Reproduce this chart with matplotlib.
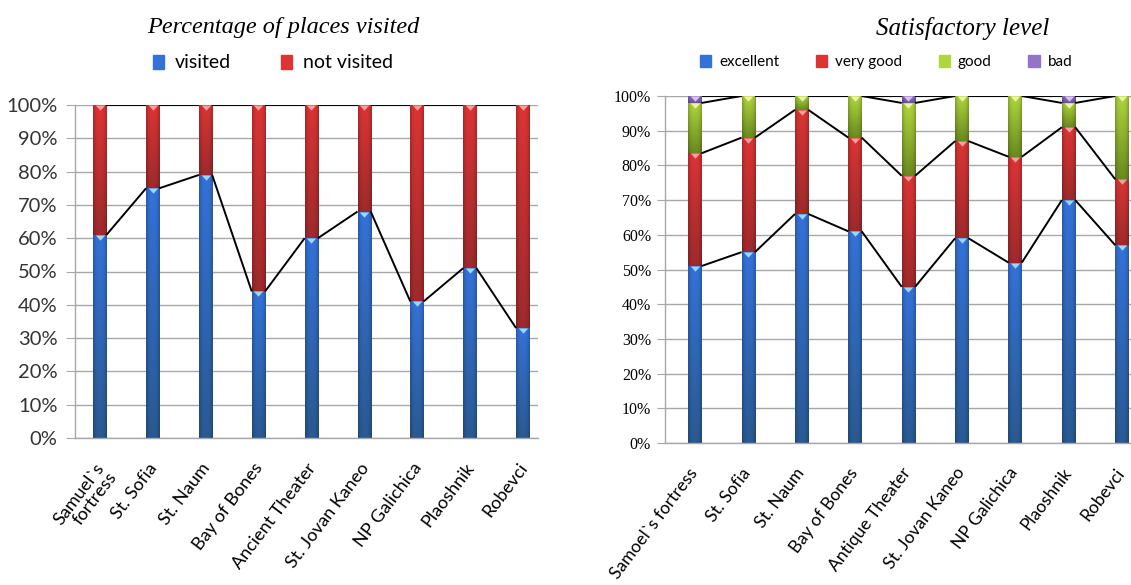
import numpy as np
import matplotlib
matplotlib.use("Agg")
import matplotlib.pyplot as plt
from matplotlib.colors import to_rgb
from matplotlib.patches import Patch
from matplotlib.path import Path
from matplotlib.transforms import ScaledTranslation

# ---- data -------------------------------------------------------------
places_visit = ["Samuel`s\nfortress", "St. Sofia", "St. Naum", "Bay of Bones",
                "Ancient Theater", "St. Jovan Kaneo", "NP Galichica",
                "Plaoshnik", "Robevci"]
visited = [61, 75, 79, 44, 60, 68, 41, 51, 33]
not_visited = [39, 25, 21, 56, 40, 32, 59, 49, 67]

places_rating = ["Samoel`s fortress", "St. Sofia", "St. Naum", "Bay of Bones",
                 "Antique Theater", "St. Jovan Kaneo", "NP Galichica",
                 "Plaoshnik", "Robevci"]
excellent = [51, 55, 66, 61, 45, 59, 52, 70, 57]
very_good = [32.5, 33, 30, 27, 32, 28, 30.5, 21, 19]
good = [14.5, 12, 4, 12, 21, 13, 17.5, 7, 24]
bad = [2, 0, 0, 0, 2, 0, 0, 2, 0]

pct_ticks = list(range(0, 101, 10))
pct_labels = [f"{t}%" for t in pct_ticks]

# ---- styling ----------------------------------------------------------
# (bottom colour, top colour, highlight triangle colour)
STYLE = {
    "blue":   ("#2a5a92", "#3472d8", "#9ad8ff"),
    "red":    ("#9e2a2c", "#dc3434", "#f6a0a0"),
    "green":  ("#6a8a1e", "#b0d63e", "#eef5a0"),
    "purple": ("#6e4ea6", "#9274c8", "#d6c4f0"),
}
GRID = "#a8a8a8"
SANS = ["Lato", "DejaVu Sans"]
SERIF = ["Liberation Serif", "DejaVu Serif"]
W, H = 1131, 585

# triangle hanging below its anchor point
TRI = Path([(-1, 0), (1, 0), (0, -1.1), (-1, 0)],
           [Path.MOVETO, Path.LINETO, Path.LINETO, Path.CLOSEPOLY])


def shade_bars(ax, bars, style):
    lo, hi, _ = STYLE[style]
    lo, hi = np.array(to_rgb(lo)), np.array(to_rgb(hi))
    ny, nx = 80, 20
    t = np.linspace(0, 1, ny)[:, None, None]
    col = lo * (1 - t) + hi * t
    hx = 1 - 0.22 * np.abs(np.linspace(-1, 1, nx)) ** 3
    img = np.clip(col * hx[None, :, None], 0, 1)
    for b in bars:
        h = b.get_height()
        if h <= 0:
            continue
        x0, y0, w = b.get_x(), b.get_y(), b.get_width()
        im = ax.imshow(img, extent=[x0, x0 + w, y0, y0 + h], origin="lower",
                       aspect="auto", interpolation="bilinear", zorder=2.5)
        im.set_clip_path(b)


def stacked(ax, labels, series, styles, width, xlim):
    x = np.arange(len(labels))
    bottom = np.zeros(len(labels))
    tops = []
    for vals, st in zip(series, styles):
        vals = np.asarray(vals, dtype=float)
        bars = ax.bar(x, vals, width, bottom=bottom, color=STYLE[st][1],
                      zorder=2, linewidth=0)
        shade_bars(ax, bars, st)
        top = bottom + vals
        show = vals > 0
        ax.scatter(x[show], top[show], marker=TRI, s=55, color=STYLE[st][2],
                   linewidths=0, zorder=3)
        bottom = top
        tops.append(top.copy())
    # series lines joining the segment boundaries of neighbouring bars
    for top in tops:
        for i in range(len(x) - 1):
            ax.plot([x[i] + width / 2, x[i + 1] - width / 2],
                    [top[i], top[i + 1]], color="black", lw=1.4,
                    zorder=4, solid_capstyle="butt")
    ax.set_xlim(*xlim)
    ax.set_ylim(0, 100)
    ax.set_yticks(pct_ticks)
    ax.set_yticklabels(pct_labels)
    ax.set_xticks(x)
    ax.yaxis.grid(True, color=GRID, lw=1.0, zorder=0)
    ax.set_axisbelow(True)
    for s in ("top", "right"):
        ax.spines[s].set_visible(False)
    for s in ("left", "bottom"):
        ax.spines[s].set_color(GRID)
        ax.spines[s].set_linewidth(1.0)
    ax.tick_params(axis="x", length=0, pad=0)
    return x


def shift_labels(fig, labels, dx_px, dy_px):
    off = ScaledTranslation(dx_px / fig.dpi, -dy_px / fig.dpi, fig.dpi_scale_trans)
    for t in labels:
        t.set_transform(t.get_transform() + off)


def axes_px(fig, x0, x1, ytop, ybot):
    return fig.add_axes([x0 / W, 1 - ybot / H, (x1 - x0) / W, (ybot - ytop) / H])


fig = plt.figure(figsize=(W / 100, H / 100), dpi=100)

# ---- left: visited / not visited -------------------------------------
axl = axes_px(fig, 75, 538, 105, 438)
stacked(axl, places_visit, [visited, not_visited], ["blue", "red"],
        0.25, (-0.47, 8.29))
axl.tick_params(axis="y", length=6.5, color=GRID, pad=6)
axl.set_xticklabels(places_visit, rotation=53, ha="right", va="top",
                    rotation_mode="anchor", fontsize=13, family=SANS,
                    linespacing=0.95)
shift_labels(fig, axl.get_xticklabels(), -5, 22)
for t in axl.get_yticklabels():
    t.set_fontsize(14.5)
    t.set_family(SANS)
    t.set_color("#333333")

fig.text(283 / W, 1 - 28 / H, "Percentage of places visited",
         ha="center", va="center", fontsize=17.5, style="italic", family=SERIF)
fig.legend(handles=[Patch(color=STYLE["blue"][1], label="visited"),
                    Patch(color=STYLE["red"][1], label="not visited")],
           loc="center", bbox_to_anchor=(273 / W, 1 - 63 / H), ncol=2,
           frameon=False, prop={"family": SANS, "size": 14},
           handlelength=0.55, handleheight=0.7, handletextpad=0.55,
           columnspacing=2.6)

# ---- right: satisfaction levels --------------------------------------
axr = axes_px(fig, 665, W, 96, 443)
stacked(axr, places_rating, [excellent, very_good, good, bad],
        ["blue", "red", "green", "purple"], 0.25, (-0.56, 8.17))
axr.tick_params(axis="y", length=6, color=GRID, pad=4)
axr.set_xticklabels(places_rating, rotation=53, ha="right", va="top",
                    rotation_mode="anchor", fontsize=12.5, family=SANS)
shift_labels(fig, axr.get_xticklabels(), -7, 22)
for t in axr.get_yticklabels():
    t.set_fontsize(11.5)
    t.set_family(SERIF)

fig.text(963 / W, 1 - 28 / H, "Satisfactory level",
         ha="center", va="center", fontsize=18, style="italic", family=SERIF)
fig.legend(handles=[Patch(color=STYLE["blue"][1], label="excellent"),
                    Patch(color=STYLE["red"][1], label="very good"),
                    Patch(color=STYLE["green"][1], label="good"),
                    Patch(color=STYLE["purple"][1], label="bad")],
           loc="center", bbox_to_anchor=(886 / W, 1 - 62 / H), ncol=4,
           frameon=False, prop={"family": SANS, "size": 11},
           handlelength=0.75, handleheight=0.85, handletextpad=0.5,
           columnspacing=2.4)

fig.savefig("out.png", dpi=100)
